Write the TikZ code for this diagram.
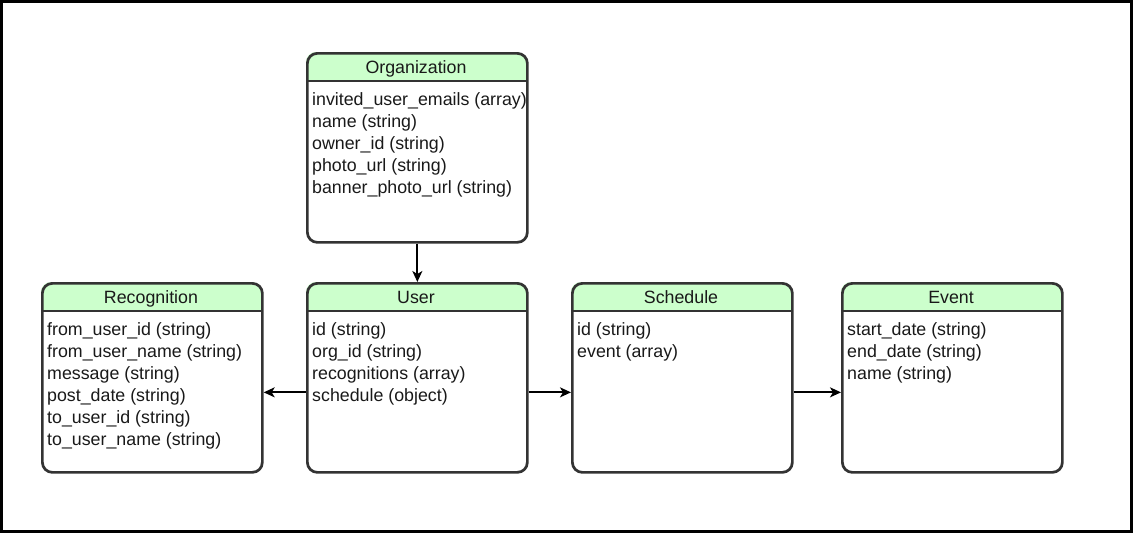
\documentclass[tikz,border=0pt]{standalone}
\usepackage{fontspec}
\setmainfont{Liberation Sans}
\usetikzlibrary{arrows.meta}
\definecolor{boxline}{HTML}{333333}
\definecolor{hdrgreen}{HTML}{CCFFCC}
\tikzset{
  entbox/.style={draw=boxline, line width=2.7pt, rounded corners=10pt, minimum width=220pt, minimum height=189pt, inner sep=0pt, anchor=north west},
  hdr/.style={fill=hdrgreen},
  sepline/.style={draw=boxline, line width=2.7pt},
  titletxt/.style={font=\fontsize{17.8}{20}\selectfont, text=black!90, anchor=base, inner sep=0pt},
  bodytxt/.style={font=\fontsize{17.8}{20}\selectfont, text=black!90, anchor=base west, inner sep=0pt},
  arr/.style={draw=black, line width=1.8pt, -{Stealth[length=11pt, width=10pt, inset=3pt]}},
}
\newcommand\entity[5]{%
  \fill[hdr] (#2,#3+29) [rounded corners=10pt] -- (#2,#3) -- (#2+220,#3) [sharp corners] -- (#2+220,#3+29) -- cycle;
  \node[entbox] (#1) at (#2,#3) {};
  \draw[sepline] (#2,#3+29) -- (#2+220,#3+29);
  \node[titletxt] (#1-title) at (#2+110,#3+21.5) {#4};
  \foreach \txt [count=\i] in {#5} {
    \node[bodytxt] (#1-l\i) at (#2+6,#3+31.5+22*\i) {\txt};
  }
}
\begin{document}
\begin{tikzpicture}[x=1pt, y=-1pt]
\useasboundingbox (0,0) rectangle (1133,533);
\draw[black, line width=3pt] (1.5,1.5) rectangle (1131.5,531.5);
\entity{org}{306}{52}{Organization}{invited\_user\_emails (array), name (string), owner\_id (string), photo\_url (string), banner\_photo\_url (string)}
\entity{rec}{41}{282}{Recognition}{from\_user\_id (string), from\_user\_name (string), message (string), post\_date (string), to\_user\_id (string), to\_user\_name (string)}
\entity{user}{306}{282}{User}{id (string), org\_id (string), recognitions (array), schedule (object)}
\entity{sched}{571}{282}{Schedule}{id (string), event (array)}
\entity{event}{841}{282}{Event}{start\_date (string), end\_date (string), name (string)}
\draw[arr] (org.south) -- (user.north);
\draw[arr] ([yshift=-14.5pt]user.west) -- ([yshift=-14.5pt]rec.east);
\draw[arr] ([yshift=-14.5pt]user.east) -- ([yshift=-14.5pt]sched.west);
\draw[arr] ([yshift=-14.5pt]sched.east) -- ([yshift=-14.5pt]event.west);
\end{tikzpicture}
\end{document}
